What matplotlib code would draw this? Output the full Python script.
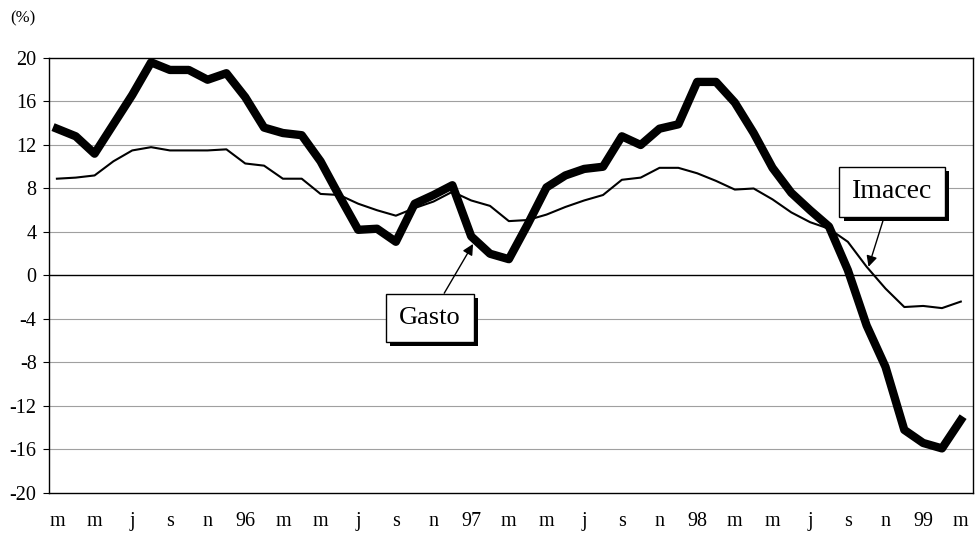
import matplotlib
matplotlib.use("Agg")
import matplotlib.pyplot as plt
import matplotlib.patheffects as pe
import numpy as np

# Monthly data, March 1995 - March 1999 (annual % change)
gasto = [13.5, 12.8, 11.2, 13.9, 16.6, 19.6, 18.9, 18.9, 18.0, 18.6,
         16.4, 13.6, 13.1, 12.9, 10.5, 7.3, 4.2, 4.3, 3.1, 6.6,
         7.4, 8.3, 3.6, 2.0, 1.5, 4.7, 8.1, 9.2, 9.8, 10.0,
         12.8, 12.0, 13.5, 13.9, 17.8, 17.8, 15.9, 13.1, 9.9, 7.6,
         6.0, 4.5, 0.5, -4.6, -8.4, -14.2, -15.4, -15.9, -13.3]
imacec = [8.9, 9.0, 9.2, 10.5, 11.5, 11.8, 11.5, 11.5, 11.5, 11.6,
          10.3, 10.1, 8.9, 8.9, 7.5, 7.4, 6.6, 6.0, 5.5, 6.2,
          6.8, 7.7, 6.9, 6.4, 5.0, 5.1, 5.6, 6.3, 6.9, 7.4,
          8.8, 9.0, 9.9, 9.9, 9.4, 8.7, 7.9, 8.0, 7.0, 5.8,
          4.9, 4.3, 3.1, 0.8, -1.2, -2.9, -2.8, -3.0, -2.4]
tick_labels = ["m", "m", "j", "s", "n", "96", "m", "m", "j", "s", "n", "97",
               "m", "m", "j", "s", "n", "98", "m", "m", "j", "s", "n", "99", "m"]
y_ticks = [20, 16, 12, 8, 4, 0, -4, -8, -12, -16, -20]

plt.rcParams['font.family'] = ['Liberation Serif', 'DejaVu Serif']

fig = plt.figure(figsize=(9.8, 5.34), dpi=100)
ax = fig.add_axes([0.05, 0.0768, 0.9429, 0.8146])

x = np.arange(len(gasto))
for yt in y_ticks:
    if yt in (20, -20):
        continue
    ax.axhline(yt, color='black' if yt == 0 else '#a0a0a0',
               lw=1.0 if yt == 0 else 0.8, zorder=1)

ax.plot(x, imacec, color='black', lw=1.5, zorder=3, solid_joinstyle='round')
ax.plot(x, gasto, color='black', lw=6, zorder=4, solid_joinstyle='round')

ax.set_xlim(-0.42, 48.65)
ax.set_ylim(-20, 20)
ax.set_yticks(y_ticks)
ax.set_yticklabels([str(v) for v in y_ticks], fontsize=14.5)
ax.set_xticks(np.arange(0, len(gasto), 2))
ax.set_xticklabels(tick_labels, fontsize=14.5)
ax.tick_params(axis='x', length=0, pad=14)
ax.tick_params(axis='y', length=4, width=0.8, pad=5)
for s in ax.spines.values():
    s.set_linewidth(1.0)
    s.set_color('black')

fig.text(0.01, 0.965, "(%)", fontsize=12, ha='left', va='center')

shadow = [pe.SimplePatchShadow(offset=(3, -3), shadow_rgbFace='black', alpha=1.0), pe.Normal()]

t1 = ax.annotate("Imacec", xy=(43.1, 0.8), xytext=(44.35, 7.7),
                 fontsize=20, ha='center', va='center', zorder=6,
                 bbox=dict(boxstyle='square,pad=0.45', fc='white', ec='black', lw=1),
                 arrowprops=dict(arrowstyle='-|>', color='black', lw=1,
                                 mutation_scale=16, shrinkA=0, shrinkB=0))
t1.get_bbox_patch().set_path_effects(shadow)

t2 = ax.annotate("Gasto", xy=(22.1, 2.9), xytext=(19.8, -3.9),
                 fontsize=19, ha='center', va='center', zorder=6,
                 bbox=dict(boxstyle='square,pad=0.5', fc='white', ec='black', lw=1),
                 arrowprops=dict(arrowstyle='-|>', color='black', lw=1,
                                 mutation_scale=16, shrinkA=0, shrinkB=0))
t2.get_bbox_patch().set_path_effects(shadow)

fig.savefig("out.png", dpi=100)
